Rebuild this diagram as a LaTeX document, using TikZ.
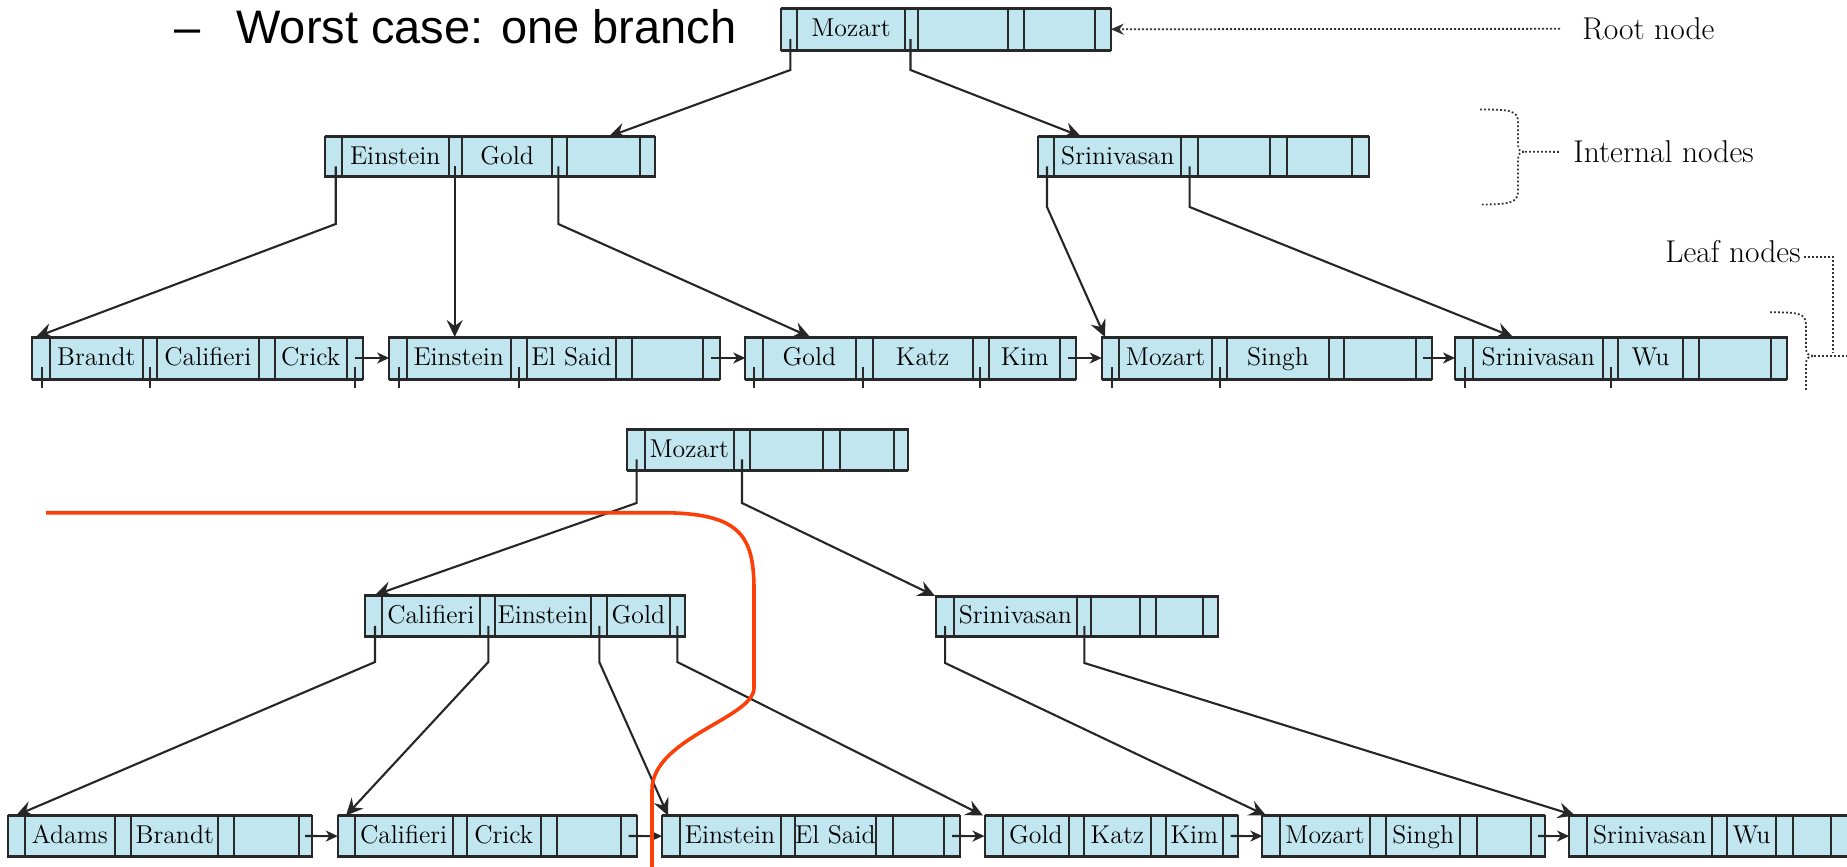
\documentclass[tikz,border=0pt]{standalone}
\usepackage{fontspec}
\newfontfamily\titlefont{Liberation Sans}
\usetikzlibrary{arrows.meta}
\definecolor{cellfill}{RGB}{193,230,240}
\definecolor{edgecol}{RGB}{40,40,40}
\definecolor{redline}{RGB}{252,62,8}

\def\bpparse#1,#2,#3,#4,#5,#6,#7,#8\bpend{\def\bpa{#1}\def\bpb{#2}\def\bpc{#3}\def\bpd{#4}\def\bpe{#5}\def\bpf{#6}\def\bpg{#7}\def\bph{#8}}

\newcommand\bpkey[3]{%
  \if\relax\detokenize{#3}\relax\else
    \node[bpkey] (#1) at (#2,\bpby) {#3};
  \fi}

\newcommand\bpnode[7]{%
  \bpparse#4\bpend
  \pgfmathsetmacro\bpw{(\bph-\bpa)*0.5}%
  \pgfmathsetmacro\bpht{(#3-#2)*0.5}%
  \pgfmathsetmacro\bpcx{(\bpa+\bph)/2}%
  \pgfmathsetmacro\bpcy{(#2+#3)/2}%
  \pgfmathsetmacro\bpby{\bpcy+7.5}%
  \pgfmathsetmacro\bpka{(\bpb+\bpc)/2}%
  \pgfmathsetmacro\bpkb{(\bpd+\bpe)/2}%
  \pgfmathsetmacro\bpkc{(\bpf+\bpg)/2}%
  \node[bpbox, minimum width=\bpw pt, minimum height=\bpht pt] (#1) at (\bpcx,\bpcy) {};
  \foreach \xx in {\bpb,\bpc,\bpd,\bpe,\bpf,\bpg} {\draw[bpline] (\xx,#2) -- (\xx,#3);}
  \draw[bpedge] (\bpa,#2) -- (\bph,#2) (\bpa,#3) -- (\bph,#3);
  \bpkey{#1-1}{\bpka}{#5}%
  \bpkey{#1-2}{\bpkb}{#6}%
  \bpkey{#1-3}{\bpkc}{#7}%
}

% leaf stub: name, x, top, bot
\newcommand\bpstub[4]{%
  \pgfmathsetmacro\bpsa{#3+0.72*(#4-#3)}%
  \pgfmathsetmacro\bpsb{#4+9}%
  \coordinate (#1) at (#2,\bpsa);
  \coordinate (#1e) at (#2,\bpsb);
  \draw[bpline] (#1) -- (#1e);
}

% pointer: name, x, top, bot, bend y, target
\newcommand\bpptr[6]{%
  \pgfmathsetmacro\bpsa{#3+0.74*(#4-#3)}%
  \coordinate (#1) at (#2,\bpsa);
  \coordinate (#1b) at (#2,#5);
  \draw[conn] (#1) -- (#1b) -- (#6);
}

\begin{document}
\begin{tikzpicture}[x=0.5pt,y=-0.5pt,
  bpbox/.style={draw=edgecol, fill=cellfill, line width=1pt, inner sep=0pt, outer sep=0pt, rectangle},
  bpline/.style={draw=edgecol, line width=1pt},
  bpedge/.style={draw=edgecol, line width=1.5pt},
  bpkey/.style={anchor=base, inner sep=0pt, font=\fontsize{12.9}{15}\selectfont, text=black},
  conn/.style={draw=black!85, line width=1.05pt, -{Stealth[length=8.5pt,width=8pt,inset=3pt]}},
  nextp/.style={draw=black!85, line width=1.05pt, -{Stealth[length=6pt,width=5.5pt,inset=1.8pt]}},
  lbl/.style={anchor=base west, inner sep=0pt, font=\fontsize{15.75}{18}\selectfont},
  dots/.style={draw=black!80, line width=0.9pt, dash pattern=on 0.9pt off 1.1pt},
  redcurve/.style={draw=redline, line width=1.8pt},
]
\useasboundingbox (0,0) rectangle (1847,867);
\clip (0,0) rectangle (1847,867);

% title
\node[anchor=base west, inner sep=0pt, font=\titlefont\fontsize{23.5}{28}\selectfont] (title) at (174,43.5) {\makebox[31pt][l]{–}Worst case: one branch};

% ---------------- top tree ----------------
\bpnode{rA}{8.5}{50}{781,797.4,904.6,917.5,1008.2,1023.6,1095.4,1110.7}{Mozart}{}{}
\bpnode{iA}{136.5}{176.7}{325,341.6,448.8,461.7,552.4,566.5,639.6,654.9}{Einstein}{Gold}{}
\bpnode{iB}{136.5}{176.7}{1037.7,1054.2,1181.4,1198,1269.7,1287.4,1352.2,1368.7}{Srinivasan}{}{}

\bpnode{lA1}{337}{379}{32.3,50,142.7,157.3,258.7,274.7,346.7,362.7}{Brandt}{Califieri}{Crick}
\bpnode{lA2}{337}{379}{389.1,406.7,510.6,527,616.2,632,703,719.5}{Einstein}{El Said}{}
\bpnode{lA3}{337}{379}{745.3,763,855.6,872.7,972.5,989.4,1060,1076.3}{Gold}{Katz}{Kim}
\bpnode{lA4}{337}{379}{1101.7,1119.3,1211.7,1227.3,1328.7,1344,1416,1431.7}{Mozart}{Singh}{}
\bpnode{lA5}{337}{379}{1455,1473.3,1603.3,1618.3,1682.7,1699,1770.7,1787.3}{Srinivasan}{Wu}{}

\bpstub{lA1-s0}{41.7}{337}{379}
\bpstub{lA1-s1}{150}{337}{379}
\bpstub{lA1-s3}{355}{337}{379}
\bpstub{lA2-s0}{399}{337}{379}
\bpstub{lA2-s1}{518.8}{337}{379}
\bpstub{lA3-s0}{754}{337}{379}
\bpstub{lA3-s1}{862.7}{337}{379}
\bpstub{lA3-s2}{979.7}{337}{379}
\bpstub{lA4-s0}{1111.7}{337}{379}
\bpstub{lA4-s1}{1220}{337}{379}
\bpstub{lA5-s0}{1465}{337}{379}
\bpstub{lA5-s1}{1611}{337}{379}

% next-leaf pointers (top)
\coordinate (lA1-n) at (355,358);
\coordinate (lA2-n) at (711.3,358);
\coordinate (lA3-n) at (1067.9,358);
\coordinate (lA4-n) at (1423.3,358);
\draw[nextp] (lA1-n) -- (lA2.west);
\draw[nextp] (lA2-n) -- (lA3.west);
\draw[nextp] (lA3-n) -- (lA4.west);
\draw[nextp] (lA4-n) -- (lA5.west);

% tree pointers (top)
\coordinate (t-iA) at (609,136.5);
\coordinate (t-iB) at (1081,136.5);
\coordinate (t-lA1) at (36,337);
\coordinate (t-lA2) at (454.7,337);
\coordinate (t-lA3) at (810,337);
\coordinate (t-lA4) at (1105,337);
\coordinate (t-lA5) at (1513,337);
\bpptr{rA-p0}{790.3}{8.5}{50}{70}{t-iA}
\bpptr{rA-p1}{910.5}{8.5}{50}{70}{t-iB}
\bpptr{iA-p0}{335.7}{136.5}{176.7}{224}{t-lA1}
\bpptr{iA-p1}{454.7}{136.5}{176.7}{224}{t-lA2}
\bpptr{iA-p2}{558.3}{136.5}{176.7}{224}{t-lA3}
\bpptr{iB-p0}{1047}{136.5}{176.7}{207}{t-lA4}
\bpptr{iB-p1}{1189.6}{136.5}{176.7}{207}{t-lA5}

% labels (top)
\node[lbl] (rootlbl) at (1582,39.5) {Root node};
\draw[dots, -{Stealth[length=6.5pt,width=5.5pt]}] ([xshift=-11pt]rootlbl.west) -- (rA.east);

\node[lbl] (intlbl) at (1573,162.7) {Internal nodes};
\coordinate (intcusp) at (1525,151.7);
\draw[dots] (1480,109.5) .. controls (1508,109.5) and (1518,110) .. (1518,122) -- (1518,144) .. controls (1518,150) and (1520,151.7) .. (intcusp) .. controls (1520,151.7) and (1518,154) .. (1518,160) -- (1518,192) .. controls (1518,203) and (1508,204.5) .. (1480,204.5);
\draw[dots] (intcusp) -- ([xshift=-7pt]intlbl.west);

\node[lbl] (leaflbl) at (1665,262.7) {Leaf nodes};
\coordinate (leafcusp) at (1814,356);
\coordinate (leafjoin) at (1833,352);
\draw[dots] ([xshift=1.5pt,yshift=-2.5pt]leaflbl.east) -| (leafjoin);
\draw[dots] (1770,312.3) .. controls (1798,312.3) and (1806,313) .. (1806,325) -- (1806,348) .. controls (1806,353) and (1808,356) .. (leafcusp) .. controls (1808,356) and (1806,359) .. (1806,364) -- (1806,390);
\draw[dots] (leafcusp) -- (1847,356);

% ---------------- bottom tree ----------------
\bpnode{rB}{429.3}{470}{626.8,644.6,733.9,749.6,823.2,839.7,893.8,908}{Mozart}{}{}
\bpnode{iC}{595}{636.7}{365,381.7,480,495,590.7,606.7,670,685}{Califieri}{Einstein}{Gold}
\bpnode{iD}{596}{636.7}{935.7,954,1076.8,1091,1140.2,1155.8,1202.7,1218.3}{Srinivasan}{}{}

\bpnode{lB1}{815.5}{856.7}{7.7,24.5,115.3,131.1,218.4,233.7,298.5,312.2}{Adams}{Brandt}{}
\bpnode{lB2}{815.5}{856.7}{337.8,354.6,452.6,466.8,540.8,557.1,621.4,636.7}{Califieri}{Crick}{}
\bpnode{lB3}{815.5}{856.7}{662,679.6,780.5,795.2,875.6,893.2,943.5,960.4}{Einstein}{El Said}{}
\bpnode{lB4}{815.5}{856.7}{984.5,1002.7,1069.1,1084.2,1150.6,1165.7,1223.1,1238.2}{Gold}{Katz}{Kim}
\bpnode{lB5}{815.5}{856.7}{1262.3,1280.4,1369.8,1386.1,1460.4,1476.7,1531,1544.9}{Mozart}{Singh}{}
\bpnode{lB6}{815.5}{856.7}{1569.1,1587.2,1712.2,1727.3,1775.6,1792.5,1831,1848}{Srinivasan}{Wu}{}

\coordinate (lB1-n) at (305,836);
\coordinate (lB2-n) at (628.6,836);
\coordinate (lB3-n) at (952,836);
\coordinate (lB4-n) at (1230.6,836);
\coordinate (lB5-n) at (1538,836);
\draw[nextp] (lB1-n) -- (lB2.west);
\draw[nextp] (lB2-n) -- (lB3.west);
\draw[nextp] (lB3-n) -- (lB4.west);
\draw[nextp] (lB4-n) -- (lB5.west);
\draw[nextp] (lB5-n) -- (lB6.west);

\coordinate (t-iC) at (375,595);
\coordinate (t-iD) at (935,596);
\coordinate (t-lB1) at (16,815.5);
\coordinate (t-lB2) at (346,815.5);
\coordinate (t-lB3) at (668,815.5);
\coordinate (t-lB4) at (983,815.5);
\coordinate (t-lB5) at (1266,815.5);
\coordinate (t-lB6) at (1575,815.5);
\bpptr{rB-p0}{636.6}{429.3}{470}{503}{t-iC}
\bpptr{rB-p1}{742}{429.3}{470}{503}{t-iD}
\bpptr{iC-p0}{375}{595}{636.7}{662}{t-lB1}
\bpptr{iC-p1}{488.3}{595}{636.7}{662}{t-lB2}
\bpptr{iC-p2}{599.3}{595}{636.7}{662}{t-lB3}
\bpptr{iC-p3}{677.3}{595}{636.7}{662}{t-lB4}
\bpptr{iD-p0}{945.1}{596}{636.7}{663}{t-lB5}
\bpptr{iD-p1}{1084.4}{596}{636.7}{663}{t-lB6}

% red cut line
\draw[redcurve] (46,512.7) -- (660,512.7) .. controls (740,512.7) and (754,535) .. (754,590) -- (754,688) .. controls (754,718) and (652,738) .. (652,790) -- (652,870);
\end{tikzpicture}
\end{document}
